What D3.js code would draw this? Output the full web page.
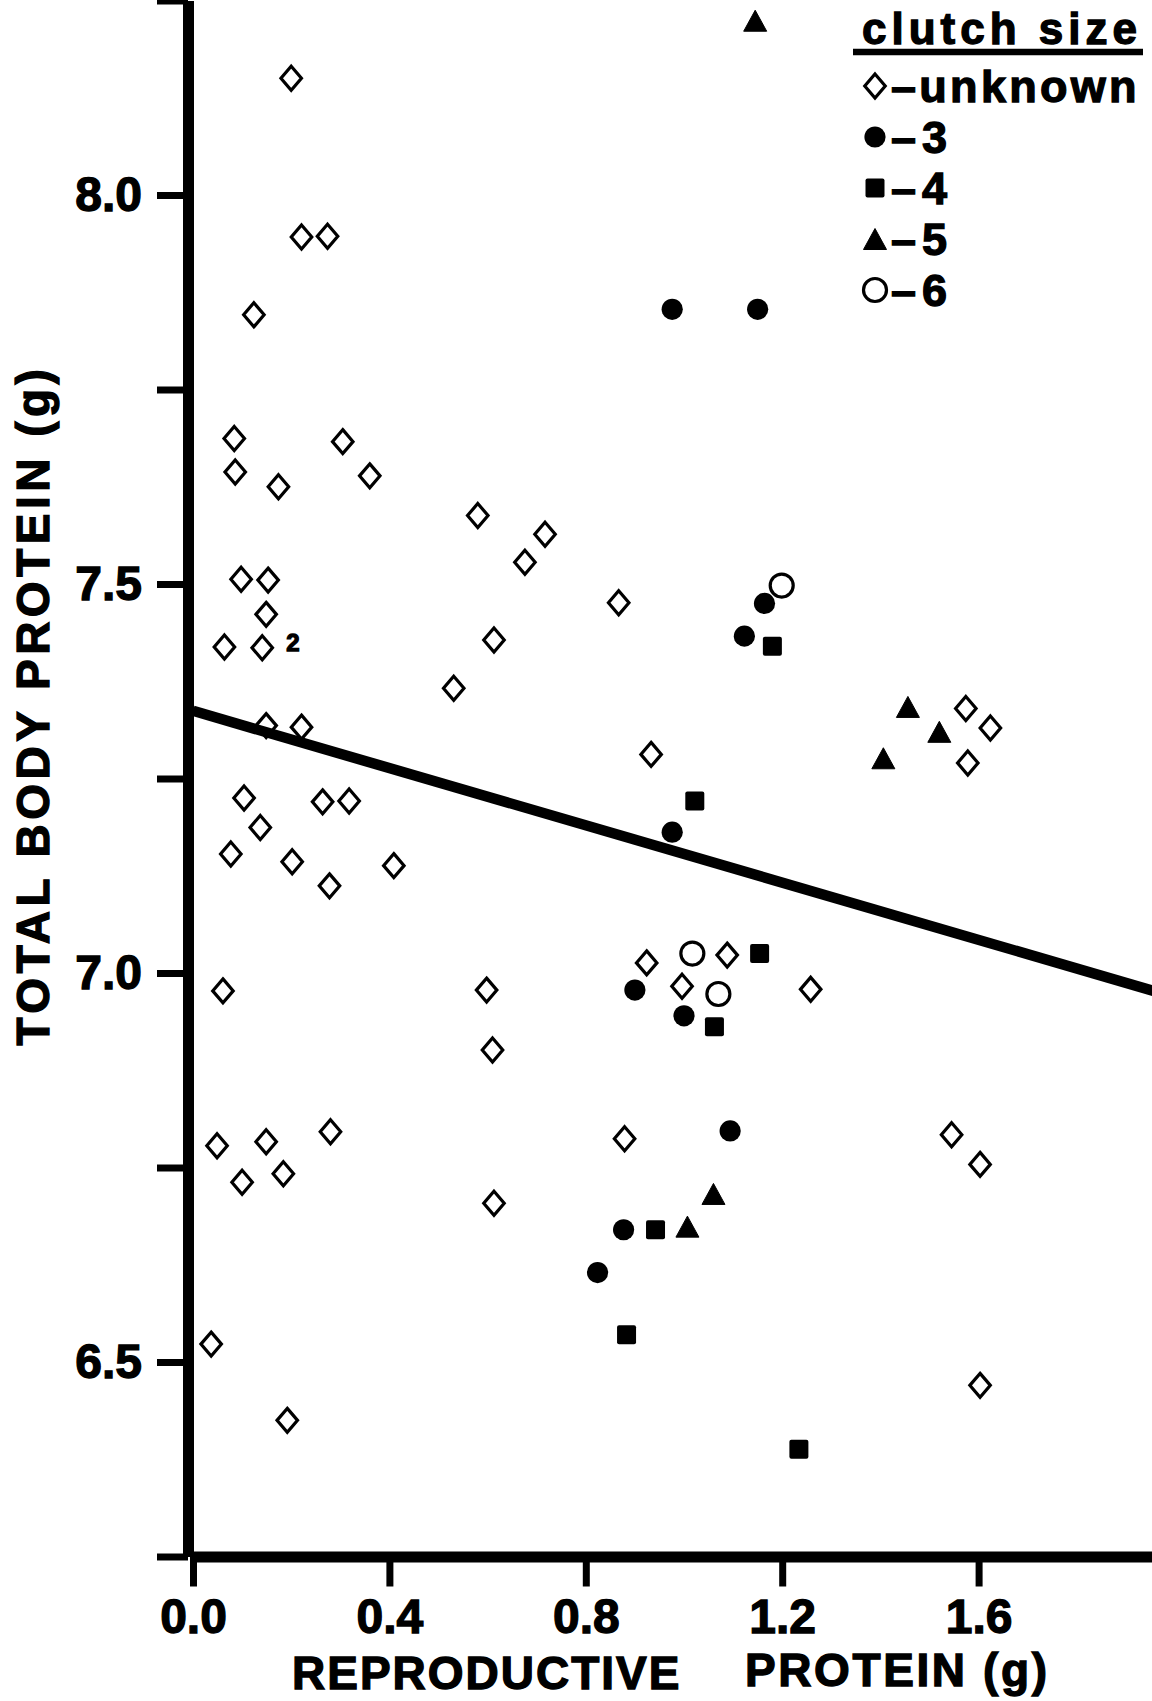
<!DOCTYPE html>
<html>
<head>
<meta charset="utf-8">
<script src="https://cdn.jsdelivr.net/npm/d3@7"></script>
<style>
  body { margin: 0; background: #fff; }
  svg { display: block; background: #fff; font-family: "Liberation Sans", Arial, sans-serif; font-weight: bold; }
  svg text { fill: #000; stroke: #000; stroke-width: 1.3px; }
</style>
</head>
<body>
<svg id="chart" width="1152" height="1701"></svg>
<script>
// reproductive protein (g), total body protein (g)
const unknown = [
  [0.200, 8.150], [0.221, 7.946], [0.274, 7.947], [0.124, 7.846], [0.084, 7.687],
  [0.305, 7.683], [0.086, 7.644], [0.174, 7.625], [0.360, 7.639], [0.580, 7.588],
  [0.717, 7.564], [0.676, 7.528], [0.098, 7.506], [0.153, 7.505], [0.149, 7.461],
  [0.064, 7.419], [0.141, 7.418], [0.613, 7.428], [0.531, 7.366], [0.149, 7.318],
  [0.221, 7.316], [0.104, 7.225], [0.264, 7.220], [0.318, 7.221], [0.137, 7.187],
  [0.077, 7.153], [0.202, 7.143], [0.409, 7.138], [0.278, 7.112], [0.061, 6.977],
  [0.598, 6.978], [0.610, 6.901], [0.049, 6.778], [0.149, 6.783], [0.280, 6.796],
  [0.100, 6.731], [0.184, 6.742], [0.613, 6.704], [0.037, 6.523], [0.192, 6.425],
  [0.867, 7.476], [1.574, 7.340], [1.624, 7.315], [1.578, 7.270], [0.933, 7.281],
  [0.924, 7.013], [1.088, 7.023], [0.996, 6.983], [1.258, 6.979], [0.879, 6.787],
  [1.545, 6.792], [1.603, 6.754], [1.603, 6.470]
];
const clutch3 = [
  [0.976, 7.853], [1.150, 7.853], [1.164, 7.475], [1.123, 7.433], [0.976, 7.181],
  [0.900, 6.978], [1.000, 6.945], [1.094, 6.797], [0.877, 6.670], [0.824, 6.615]
];
const clutch4 = [
  [1.180, 7.420], [1.022, 7.221], [1.154, 7.025], [1.062, 6.931], [0.942, 6.670],
  [0.883, 6.535], [1.234, 6.388]
];
const clutch5 = [
  [1.145, 8.224], [1.456, 7.342], [1.520, 7.310], [1.406, 7.276], [1.060, 6.716],
  [1.007, 6.674]
];
const clutch6 = [
  [1.199, 7.498], [1.017, 7.025], [1.070, 6.973]
];
// fitted line, two ends
const regression = [[0, 7.337], [2.0, 6.969]];
// the "2" beside a doubled point
const notes = [[0.141, 7.418, "2"]];

const xTicks = [0, 0.4, 0.8, 1.2, 1.6];
const yTicks = [6.25, 6.5, 6.75, 7.0, 7.25, 7.5, 7.75, 8.0, 8.25];
const legendLabels = ["\u2013unknown", "\u20133", "\u20134", "\u20135", "\u20136"];

const svg = d3.select('#chart');

const x = d3.scaleLinear().domain([0, 2]).range([193, 1175]);
const y = d3.scaleLinear().domain([6.25, 8.25]).range([1556.5, 0.5]);

function diamond(w, h) { return `M0,${-h/2}L${w/2},0L0,${h/2}L${-w/2},0Z`; }
function triangle(w, h) { return `M0,${-h/2}L${w/2},${h/2}L${-w/2},${h/2}Z`; }

// symbol drawers, one per clutch size
const drawers = [
  g => g.append('path').attr('d', diamond(20.5, 24)).attr('fill', 'none').attr('stroke', '#000').attr('stroke-width', 3.2),
  g => g.append('circle').attr('r', 10.6).attr('fill', '#000'),
  g => g.append('rect').attr('x', -9.5).attr('y', -9.5).attr('width', 19).attr('height', 19).attr('rx', 2).attr('fill', '#000'),
  g => g.append('path').attr('d', triangle(23, 21)).attr('fill', '#000').attr('stroke', '#000').attr('stroke-width', 1).attr('stroke-linejoin', 'round'),
  g => g.append('circle').attr('r', 11.5).attr('fill', 'none').attr('stroke', '#000').attr('stroke-width', 3.2)
];
const series = [unknown, clutch3, clutch4, clutch5, clutch6];

// axes
const yAxis = d3.axisLeft(y)
  .tickValues(yTicks)
  .tickSize(31)
  .tickSizeOuter(0)
  .tickPadding(15)
  .tickFormat(d => (Math.round(d * 4) % 2 === 0) ? d3.format('.1f')(d) : '');

const xAxis = d3.axisBottom(x)
  .tickValues(xTicks)
  .tickSize(30)
  .tickSizeOuter(0)
  .tickPadding(12)
  .tickFormat(d3.format('.1f'));

const gy = svg.append('g').attr('transform', `translate(${x(0) - 5},0)`).call(yAxis);
const gx = svg.append('g').attr('transform', `translate(0,${y(6.25)})`).call(xAxis);

[gy, gx].forEach(g => {
  g.select('.domain').attr('stroke', '#000').attr('stroke-width', 11);
  g.selectAll('.tick line').attr('stroke', '#000').attr('stroke-width', 7);
  g.selectAll('.tick text').attr('font-size', 48)
    .attr('font-family', '"Liberation Sans", Arial, sans-serif').attr('font-weight', 'bold');
});

// points
series.forEach((data, i) => {
  svg.append('g').selectAll('g')
    .data(data)
    .join('g')
    .attr('transform', d => `translate(${x(d[0])},${y(d[1])})`)
    .each(function () { drawers[i](d3.select(this)); });
});

svg.selectAll('text.note')
  .data(notes)
  .join('text')
  .attr('class', 'note')
  .attr('x', d => x(d[0]) + 24)
  .attr('y', d => y(d[1]) + 3)
  .attr('font-size', 24)
  .text(d => d[2]);

// regression line
svg.append('path')
  .attr('d', d3.line().x(d => x(d[0])).y(d => y(d[1]))(regression))
  .attr('fill', 'none')
  .attr('stroke', '#000')
  .attr('stroke-width', 10.5);

// axis titles
svg.append('text')
  .attr('transform', 'translate(49,705) rotate(-90)')
  .attr('text-anchor', 'middle')
  .attr('font-size', 46)
  .attr('letter-spacing', 4.5)
  .text('TOTAL BODY PROTEIN (g)');

const xt = svg.append('text')
  .attr('font-size', 46)
  .attr('letter-spacing', 2);
xt.append('tspan').attr('x', 292).attr('y', 1689).text('REPRODUCTIVE');
xt.append('tspan').attr('x', 745).attr('y', 1686).attr('letter-spacing', 2.6).text('PROTEIN (g)');

// legend
const legend = svg.append('g');
legend.append('text')
  .attr('x', 862).attr('y', 44)
  .attr('font-size', 44)
  .attr('letter-spacing', 5)
  .text('clutch size');
legend.append('line')
  .attr('x1', 853).attr('x2', 1143)
  .attr('y1', 52).attr('y2', 52)
  .attr('stroke', '#000').attr('stroke-width', 6.5);

const rows = legend.selectAll('g.row')
  .data(legendLabels)
  .join('g')
  .attr('class', 'row')
  .attr('transform', (d, i) => `translate(875,${86 + i * 51})`);
rows.each(function (d, i) { drawers[i](d3.select(this)); });
rows.append('text')
  .attr('x', 16)
  .attr('dy', '0.36em')
  .attr('font-size', 45)
  .attr('letter-spacing', (d, i) => i === 0 ? 3.3 : 6)
  .text(d => d);
</script>
</body>
</html>
